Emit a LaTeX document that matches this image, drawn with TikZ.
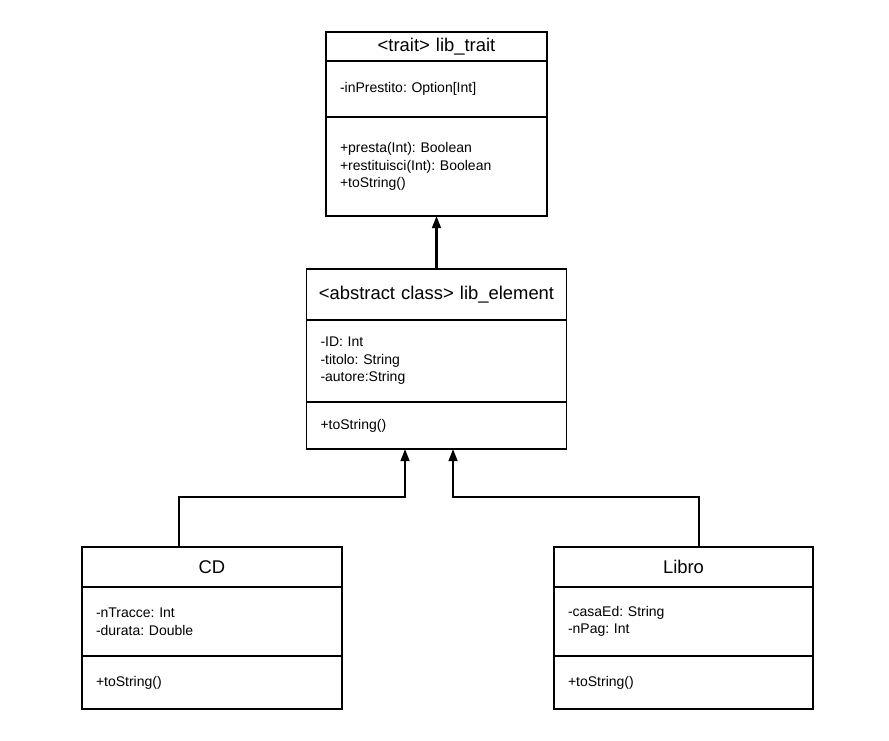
\documentclass[tikz,border=0pt]{standalone}
\usepackage{fontspec}
\setmainfont{Liberation Sans}
\usetikzlibrary{positioning,arrows.meta}
\frenchspacing

\newcommand{\headfont}{\fontsize{13.8}{16}\selectfont}
\newcommand{\partfont}{\fontsize{10.5}{13.2}\selectfont}

\tikzset{
  umlhead/.style n args={2}{draw, line width=0.8pt, text width=#1, align=center,
    minimum height=#2, inner xsep=0pt, inner ysep=0pt, outer sep=0pt, font=\headfont},
  umlpart/.style n args={2}{draw, line width=0.8pt, text width=#1, align=left,
    minimum height=#2, inner xsep=10.5pt, inner ysep=0pt, outer sep=0pt, font=\partfont},
  extends/.style={line width=1.6pt, -{Triangle[length=9pt,width=6.5pt]}}
}

\begin{document}
\begin{tikzpicture}[x=0.75pt, y=-0.75pt]
    \useasboundingbox (0,0) rectangle (889,740);

    % Trait
    \node[umlhead={165.75pt}{21.75pt}, anchor=north] (trait) at (436.5,32) {<trait> lib\_trait};
    \node[umlpart={144.75pt}{42pt}, below=0pt of trait] (traitAttr) {-inPrestito: Option[Int]};
    \node[umlpart={144.75pt}{74.25pt}, below=0pt of traitAttr] (traitOps)
      {+presta(Int): Boolean\\+restituisci(Int): Boolean\\+toString()\\[4pt]};

    % Classe astratta
    \node[umlhead={195pt}{38.25pt}, anchor=north] (elem) at (436.5,269) {<abstract class> lib\_element};
    \node[umlpart={174pt}{61.5pt}, below=0pt of elem] (elemAttr)
      {-ID: Int\\-titolo: String\\-autore:String\\[-4pt]};
    \node[umlpart={174pt}{35.25pt}, below=0pt of elemAttr] (elemOps) {+toString()};

    % CD
    \node[umlhead={195pt}{30pt}, anchor=north] (cd) at (212,547) {CD};
    \node[umlpart={174pt}{51.75pt}, below=0pt of cd] (cdAttr)
      {-nTracce: Int\\-durata: Double};
    \node[umlpart={174pt}{39.75pt}, below=0pt of cdAttr] (cdOps) {+toString()};

    % Libro
    \node[umlhead={194.25pt}{30pt}, anchor=north] (libro) at (683.5,547) {Libro};
    \node[umlpart={173.25pt}{51.75pt}, below=0pt of libro] (libroAttr)
      {-casaEd: String\\-nPag: Int};
    \node[umlpart={173.25pt}{39.75pt}, below=0pt of libroAttr] (libroOps) {+toString()};

    % Ereditarieta
    \draw[extends] (elem.north) -- (traitOps.south);
    \draw[extends] ([xshift=-24.75pt]cd.north) -- ++(0,-50) -| ([xshift=-23.6pt]elemOps.south);
    \draw[extends] ([xshift=11.6pt]libro.north) -- ++(0,-50) -| ([xshift=12.4pt]elemOps.south);
  \end{tikzpicture}
\end{document}
